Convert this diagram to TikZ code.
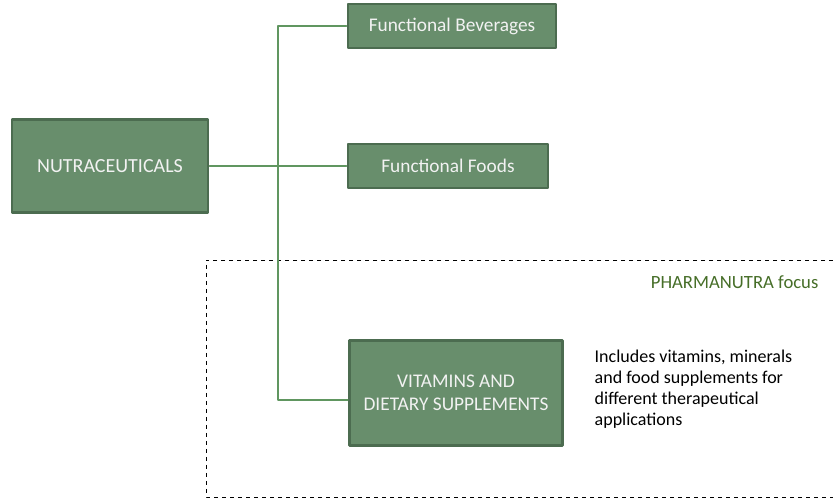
\documentclass[tikz,border=0pt]{standalone}
\usepackage{fontspec}
\setmainfont{Carlito}
\usetikzlibrary{positioning}

\definecolor{boxfill}{RGB}{104,142,108}
\definecolor{boxline}{RGB}{76,108,80}
\definecolor{linkgreen}{RGB}{96,150,96}
\definecolor{focusgreen}{RGB}{70,110,40}

\begin{document}
\begin{tikzpicture}
    [line cap=round,line join=round,x=0.75pt,y=-0.75pt,
     catbox/.style={draw=boxline,line width=2.2pt,fill=boxfill,text=white!95!black,
                    font=\fontsize{14.5}{17}\selectfont,align=center,inner sep=2pt},
     link/.style={draw=linkgreen,line width=0.8pt}]
%frame of the picture
\useasboundingbox (0,0) rectangle (833,502);
%the focus area
\draw[dashed,line width=0.6pt,line cap=butt] (833,260) -- (206,260) -- (206,497) -- (833,497);
\node[anchor=east,text=focusgreen,font=\fontsize{14}{16}\selectfont] (focus) at (823,282) {PHARMANUTRA focus};
%the boxes
\node[catbox,minimum width=147pt,minimum height=70pt,font=\fontsize{15}{17}\selectfont] (nutra) at (110,166) {NUTRACEUTICALS};
\node[catbox,minimum width=156pt,minimum height=33pt] (bev) at (452,26) {Functional Beverages};
\node[catbox,minimum width=150pt,minimum height=33pt] (foods) at (448,166) {Functional Foods};
\node[catbox,minimum width=160pt,minimum height=79pt,font=\fontsize{14.5}{17}\selectfont] (vit) at (456,393) {VITAMINS AND\\DIETARY SUPPLEMENTS};
%tree lines
\coordinate (top) at (278,26);
\coordinate (mid) at (278,166);
\coordinate (bot) at (278,400);
\draw[link] (nutra.east) -- (mid);
\draw[link] (bev.west) -- (top) -- (bot) -- (vit.west |- bot);
\draw[link] (mid) -- (foods.west);
%note
\node[anchor=north west,align=left,font=\fontsize{13.5}{15.8}\selectfont] (note) at (590,345)
    {Includes vitamins, minerals\\and food supplements  for\\different therapeutical\\applications};
\end{tikzpicture}
\end{document}
